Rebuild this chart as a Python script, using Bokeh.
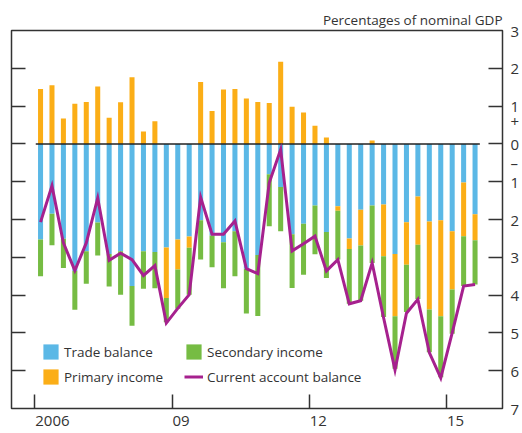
import numpy as np
from bokeh.plotting import figure
from bokeh.models import (Range1d, LinearAxis, FixedTicker, Legend, Title,
                          LegendItem, ColumnDataSource)
from bokeh.embed import file_html
from bokeh.resources import INLINE

# ---------------- data (percentages of nominal GDP), 2006 Q1 - 2015 Q3 ----------------
quarters = [f"{2006 + i // 4} Q{i % 4 + 1}" for i in range(39)]

trade = [-2.53, -1.85, -2.51, -3.36, -2.84, -2.08, -2.91, -2.84, -3.76, -2.84,
         -2.86, -2.74, -2.53, -2.45, -2.02, -2.42, -2.60, -2.31, -3.30, -2.94,
         -0.80, -1.14, -2.39, -2.11, -1.63, -2.33, -1.65, -2.50, -1.74, -1.63,
         -1.60, -2.91, -2.07, -1.39, -2.05, -2.02, -2.31, -1.02, -1.86]

primary = [1.45, 1.55, 0.67, 1.06, 1.11, 1.52, 0.69, 1.10, 1.76, 0.33,
           0.60, -1.34, -0.79, -0.30, 1.64, 0.87, 1.44, 1.45, 1.20, 1.11,
           1.08, 2.17, 0.98, 0.83, 0.48, 0.17, -0.12, -0.28, -0.95, 0.09,
           -1.37, -1.65, -1.13, -1.28, -2.33, -2.54, -1.54, -1.42, -0.69]

secondary = [-0.97, -0.83, -0.77, -1.03, -0.86, -0.87, -0.86, -1.15, -1.05, -0.99,
             -0.96, -0.64, -1.04, -1.24, -1.04, -0.84, -1.22, -1.19, -1.19, -1.61,
             -1.38, -1.17, -1.42, -1.35, -1.29, -1.22, -1.29, -1.45, -1.46, -1.52,
             -1.61, -1.39, -1.25, -1.43, -1.13, -1.61, -1.17, -1.32, -1.17]

current_account = [-2.07, -1.11, -2.62, -3.35, -2.62, -1.43, -3.08, -2.89, -3.06, -3.48,
                   -3.22, -4.74, -4.35, -3.99, -1.41, -2.39, -2.39, -2.04, -3.30, -3.43,
                   -1.03, -0.15, -2.83, -2.64, -2.44, -3.36, -3.06, -4.23, -4.15, -3.15,
                   -4.60, -5.98, -4.48, -4.11, -5.52, -6.19, -5.00, -3.76, -3.72]

x_tick_years = [2006, 2009, 2012, 2015]
x_tick_labels = ["2006", "09", "12", "15"]
y_ticks = [3, 2, 1, 0, -1, -2, -3, -4, -5, -6, -7]
y_tick_labels = ["3", "2", "1", "0", "1", "2", "3", "4", "5", "6", "7"]
sign_ticks = [0.6, -0.5]
sign_labels = ["+", "–"]

# ---------------- styling ----------------
FONT = "Open Sans"
TXT = "#333333"
BLUE = "#5BB8E6"
ORANGE = "#FBAE17"
GREEN = "#76BC43"
MAGENTA = "#A6218E"
BAR_W = 0.11
W, H = 522, 433
BORDER_L, BORDER_R, BORDER_T, BORDER_B = 11, 19, 30, 25
X0, X1 = 2005.49, 2016.225
AXIS_FONT_PX = 15
DIGIT_EM = 0.572   # Open Sans digit advance

# ---------------- derived positions ----------------
x = np.array([int(q[:4]) + (int(q[-1]) - 0.5) / 4 for q in quarters])
tr = np.array(trade)
pr = np.array(primary)
se = np.array(secondary)
pr_neg = np.minimum(pr, 0)

src = ColumnDataSource(dict(
    x=x,
    b_top=np.zeros_like(tr), b_bot=tr,
    o_top=np.where(pr > 0, pr, tr), o_bot=np.where(pr > 0, 0, tr + pr),
    g_top=tr + pr_neg, g_bot=tr + pr_neg + se,
    ca=np.array(current_account),
))

p = figure(width=W, height=H,
           x_range=Range1d(X0, X1), y_range=Range1d(-7, 3),
           output_backend="svg", toolbar_location=None,
           x_axis_location=None, y_axis_location=None,
           min_border_left=BORDER_L, min_border_right=BORDER_R,
           min_border_top=BORDER_T, min_border_bottom=BORDER_B)
p.grid.grid_line_color = None
p.outline_line_color = TXT
p.outline_line_width = 1.5
p.background_fill_color = "white"

p.add_layout(Title(text="Percentages of nominal GDP", align="right",
                   text_font=FONT, text_font_size="13.5px", text_font_style="normal",
                   text_color=TXT, standoff=4), "above")

rb = p.vbar(x="x", top="b_top", bottom="b_bot", width=BAR_W, source=src,
            fill_color=BLUE, line_color=None)
ro = p.vbar(x="x", top="o_top", bottom="o_bot", width=BAR_W, source=src,
            fill_color=ORANGE, line_color=None)
rg = p.vbar(x="x", top="g_top", bottom="g_bot", width=BAR_W, source=src,
            fill_color=GREEN, line_color=None)

p.segment(x0=[x[0] - BAR_W * 0.95], x1=[x[-1] + BAR_W * 0.95], y0=[0], y1=[0],
          line_color="#222222", line_width=1.5)

rl = p.line(x="x", y="ca", source=src, line_color=MAGENTA, line_width=3,
            line_join="miter")

# ---------------- axes ----------------
def tick_axis(ticks):
    return LinearAxis(ticker=FixedTicker(ticks=ticks),
                      major_label_overrides={t: "" for t in ticks},
                      major_tick_in=14, major_tick_out=0,
                      minor_tick_in=0, minor_tick_out=0,
                      axis_line_color=None, major_tick_line_color=TXT,
                      major_tick_line_width=1.5, major_label_standoff=0,
                      major_label_text_font_size="1px")

def label_axis(ticks, labels, standoff):
    return LinearAxis(ticker=FixedTicker(ticks=ticks),
                      major_label_overrides={t: l for t, l in zip(ticks, labels)},
                      major_tick_in=0, major_tick_out=0,
                      minor_tick_in=0, minor_tick_out=0,
                      axis_line_color=None, major_tick_line_color=None,
                      major_label_standoff=standoff,
                      major_label_text_font=FONT,
                      major_label_text_font_size=f"{AXIS_FONT_PX}px",
                      major_label_text_color=TXT)

p.add_layout(tick_axis(y_ticks[1:-1]), "left")
p.add_layout(tick_axis(y_ticks[1:-1]), "right")
p.add_layout(label_axis(y_ticks + sign_ticks, y_tick_labels + sign_labels, 8), "right")
p.add_layout(tick_axis(x_tick_years), "below")

# year labels start at their tick (left-aligned): shift each centred label by half its width
px_per_year = (W - BORDER_L - BORDER_R) / (X1 - X0)
x_label_pos = [yr + len(lab) * DIGIT_EM * AXIS_FONT_PX / 2 / px_per_year + 0.01
               for yr, lab in zip(x_tick_years, x_tick_labels)]
p.add_layout(label_axis(x_label_pos, x_tick_labels, 7), "below")

# ---------------- legends ----------------
leg_style = dict(padding=0, margin=0, spacing=6, glyph_width=19, glyph_height=19,
                 label_height=19, label_standoff=4, border_line_color=None,
                 background_fill_alpha=0, label_text_font=FONT,
                 label_text_font_size="13.5px", label_text_color=TXT)
leg1 = Legend(items=[LegendItem(label="Trade balance", renderers=[rb]),
                     LegendItem(label="Primary income", renderers=[ro])],
              location=(30, 22), **leg_style)
leg2 = Legend(items=[LegendItem(label="Secondary income", renderers=[rg]),
                     LegendItem(label="Current account balance", renderers=[rl])],
              location=(173, 22), **leg_style)
p.add_layout(leg1)
p.add_layout(leg2)

open("out.html", "w").write(file_html(p, INLINE))
